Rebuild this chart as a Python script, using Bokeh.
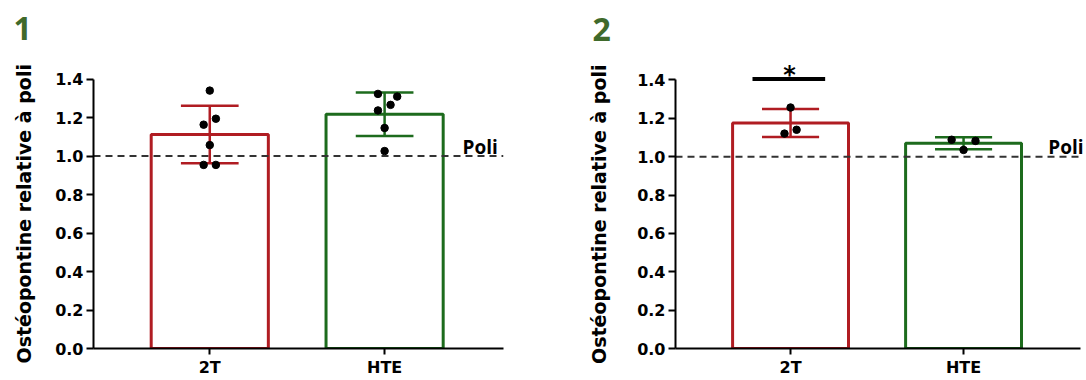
import math
from bokeh.plotting import figure
from bokeh.models import FixedTicker, NumeralTickFormatter, Label, Range1d
from bokeh.layouts import row
from bokeh.embed import file_html
from bokeh.resources import INLINE

# ---------------- data ----------------
groups = ["2T", "HTE"]
group_x = [0, 1]
bar_colors = ["#b01c22", "#1d6b1d"]
y_ticks = [0.0, 0.2, 0.4, 0.6, 0.8, 1.0, 1.2, 1.4]
y_label = "Ostéopontine relative à poli"
poli_level = 1.0

# panel 1
p1_means = [1.112, 1.217]
p1_sd = [0.150, 0.113]
p1_2T_pts = [1.340, 1.194, 1.163, 1.057, 0.954, 0.954]
p1_2T_jit = [0.0, 0.035, -0.035, 0.0, -0.035, 0.035]
p1_HTE_pts = [1.323, 1.309, 1.266, 1.237, 1.146, 1.026]
p1_HTE_jit = [-0.038, 0.072, 0.034, -0.038, 0.0, 0.0]

# panel 2
p2_means = [1.175, 1.070]
p2_sd = [0.073, 0.031]
p2_2T_pts = [1.256, 1.140, 1.120]
p2_2T_jit = [0.0, 0.035, -0.035]
p2_HTE_pts = [1.088, 1.082, 1.035]
p2_HTE_jit = [-0.069, 0.069, 0.0]

# significance bar (panel 2, over 2T)
sig_x0 = [-0.22]
sig_x1 = [0.20]
sig_y = [1.405]
sig_text = "*"

FONT = "DejaVu Sans"


def make_panel(num, means, sds, pts, jits, xr, y_end, axis_end, width, bl, br, bb,
               poli_x, poli_off, ylab_off, title_off, sig=False):
    p = figure(width=width, height=380, x_range=Range1d(*xr), y_range=Range1d(0, y_end),
               output_backend="svg", toolbar_location=None,
               min_border_left=bl, min_border_right=br, min_border_top=32, min_border_bottom=bb)
    p.outline_line_color = None
    p.grid.visible = False

    # bars
    p.vbar(x=group_x, top=means, width=0.67, bottom=0, fill_color=None,
           line_color=bar_colors, line_width=3)

    # Poli dashed line
    p.line(x=[xr[0], axis_end], y=[poli_level, poli_level], line_color="#333333",
           line_width=2, line_dash="7 5")

    # error bars
    lo = [m - s for m, s in zip(means, sds)]
    hi = [m + s for m, s in zip(means, sds)]
    p.segment(x0=group_x, x1=group_x, y0=lo, y1=hi, line_color=bar_colors, line_width=2.5)
    cap = 0.165
    p.segment(x0=[g - cap for g in group_x], x1=[g + cap for g in group_x], y0=hi, y1=hi,
              line_color=bar_colors, line_width=2.5)
    p.segment(x0=[g - cap for g in group_x], x1=[g + cap for g in group_x], y0=lo, y1=lo,
              line_color=bar_colors, line_width=2.5)

    # points
    for gx, vals, jit in zip(group_x, pts, jits):
        p.scatter(x=[gx + j for j in jit], y=vals, size=7.5, color="black")

    if sig:
        p.segment(x0=sig_x0, x1=sig_x1, y0=sig_y, y1=sig_y, line_color="black", line_width=4)
        p.add_layout(Label(x=group_x[0], y=sig_y[0], x_offset=-1, y_offset=4, text=sig_text,
                           text_align="center", text_baseline="alphabetic",
                           text_font=FONT, text_font_style="bold", text_font_size="24px",
                           text_color="black"))

    # axes
    xa = p.xaxis[0]
    xa.ticker = FixedTicker(ticks=group_x)
    xa.major_label_overrides = {g: n for g, n in zip(group_x, groups)}
    xa.bounds = (xr[0], axis_end)
    ya = p.yaxis[0]
    ya.ticker = FixedTicker(ticks=y_ticks)
    ya.formatter = NumeralTickFormatter(format="0.0")
    ya.bounds = (0, 1.4)
    for ax in (xa, ya):
        ax.axis_line_width = 2
        ax.axis_line_color = "black"
        ax.major_tick_line_width = 2
        ax.major_tick_line_color = "black"
        ax.major_tick_in = 0
        ax.minor_tick_out = 0
        ax.minor_tick_in = 0
        ax.major_label_text_font = FONT
        ax.major_label_text_font_style = "bold"
        ax.major_label_text_font_size = "16px"
        ax.major_label_text_color = "black"
    xa.major_tick_out = 6
    xa.major_label_standoff = 3
    ya.major_tick_out = 7
    ya.major_label_standoff = 3

    # y label (placed in side panel so it is not clipped to the frame)
    p.add_layout(Label(x=xr[0], y=0.7, x_offset=ylab_off, text=y_label, angle=math.pi / 2,
                       text_align="center", text_baseline="middle", text_font=FONT,
                       text_font_style="bold", text_font_size="19px", text_color="black"),
                 "left")
    # panel number
    p.add_layout(Label(x=xr[0], y=1.4, x_offset=title_off[0], y_offset=title_off[1], text=num,
                       text_align="left", text_baseline="alphabetic", text_font="Open Sans",
                       text_font_style="bold", text_font_size="32px", text_color="#3f6a2b"),
                 "above")
    # Poli
    p.add_layout(Label(x=poli_x, y=poli_level, y_offset=poli_off, text="Poli", text_align="right",
                       text_baseline="alphabetic", text_font="Open Sans", text_font_style="bold",
                       text_font_size="19px", text_color="black"))
    return p


p1 = make_panel("1", p1_means, p1_sd, [p1_2T_pts, p1_HTE_pts], [p1_2T_jit, p1_HTE_jit],
                (-0.665, 1.68), 1.642, 1.68, 508, 93, 5, 29, 1.648, 9, -70, (-80, 51))
p2 = make_panel("2", p2_means, p2_sd, [p2_2T_pts, p2_HTE_pts], [p2_2T_jit, p2_HTE_jit],
                (-0.665, 1.699), 1.647, 1.676, 578, 167, 2, 32, 1.694, 10, -77, (-83, 50),
                sig=True)

layout = row(p1, p2)
open("out.html", "w").write(file_html(layout, INLINE))
